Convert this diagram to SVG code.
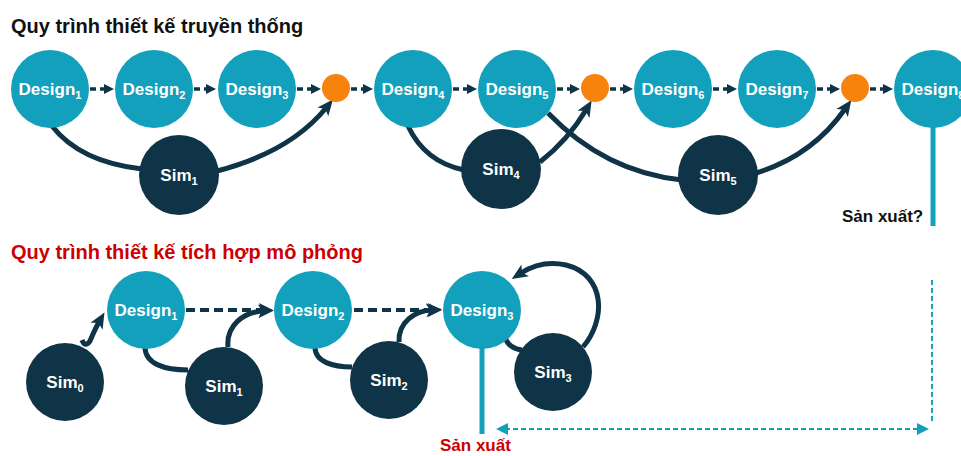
<svg xmlns="http://www.w3.org/2000/svg" width="961" height="456" viewBox="0 0 961 456">
  <style>
    .design { fill: #12a0bc; }
    .sim { fill: #0f3347; }
    .gate { fill: #f7820c; }
    .label { font-family: "Liberation Sans", Arial, sans-serif; font-weight: bold; font-size: 17px; fill: #ffffff; text-anchor: middle; }
    .sub { font-size: 11px; }
    .title { font-family: "Liberation Sans", Arial, sans-serif; font-weight: bold; font-size: 20px; }
    .note { font-family: "Liberation Sans", Arial, sans-serif; font-weight: bold; font-size: 17px; }
    .flow { fill: none; stroke: #0f3347; stroke-width: 5; marker-end: url(#bigHead); }
    .link { fill: none; stroke: #0f3347; stroke-width: 5; }
    .step { fill: none; stroke: #0f3347; stroke-width: 3.5; stroke-dasharray: 6 4; marker-end: url(#smallHead); }
    .step2 { fill: none; stroke: #0f3347; stroke-width: 4; stroke-dasharray: 9 5; marker-end: url(#midHead); }
    .bar { stroke: #12a0bc; stroke-width: 5; }
    .span { fill: none; stroke: #12a0bc; stroke-width: 2; stroke-dasharray: 5 3; }
  </style>
  <defs>
    <marker id="bigHead" markerUnits="userSpaceOnUse" markerWidth="18" markerHeight="18" refX="5" refY="9" orient="auto">
      <path d="M0,2 L16,9 L0,16 L4,9 Z" fill="#0f3347"/>
    </marker>
    <marker id="smallHead" markerUnits="userSpaceOnUse" markerWidth="12" markerHeight="12" refX="2" refY="6" orient="auto">
      <path d="M0,1 L10,6 L0,11 Z" fill="#0f3347"/>
    </marker>
    <marker id="midHead" markerUnits="userSpaceOnUse" markerWidth="16" markerHeight="16" refX="3" refY="8" orient="auto">
      <path d="M0,1 L14,8 L0,15 L3,8 Z" fill="#0f3347"/>
    </marker>
    <marker id="tealHead" markerUnits="userSpaceOnUse" markerWidth="14" markerHeight="12" refX="3" refY="6" orient="auto-start-reverse">
      <path d="M0,0 L12,6 L0,12 Z" fill="#12a0bc"/>
    </marker>
  </defs>

  <rect width="961" height="456" fill="#ffffff"/>

  <!-- headings -->
  <text class="title" x="11" y="33" fill="#111111">Quy trình thiết kế truyền thống</text>
  <text class="title" x="11" y="259" fill="#cc0000">Quy trình thiết kế tích hợp mô phỏng</text>

  <!-- connectors -->
  <g id="connectors">
    <!-- traditional flow: dashed steps -->
    <path class="step" d="M90,89 H106"/>
    <path class="step" d="M194,89 H208"/>
    <path class="step" d="M297,89 H313"/>
    <path class="step" d="M351,89 H365"/>
    <path class="step" d="M453,89 H469"/>
    <path class="step" d="M557,89 H572"/>
    <path class="step" d="M610,89 H625"/>
    <path class="step" d="M713,89 H729"/>
    <path class="step" d="M817,89 H832"/>
    <path class="step" d="M870,89 H885"/>
    <!-- traditional flow: simulation loops -->
    <path class="link" d="M52,126 Q80,162 142,169"/>
    <path class="flow" d="M217,171 Q290,152 326,108"/>
    <path class="link" d="M408,126 Q425,162 464,170"/>
    <path class="flow" d="M540,162 Q568,140 586,110"/>
    <path class="link" d="M548,113 Q605,172 682,180"/>
    <path class="flow" d="M756,173 Q812,156 845,109"/>
    <!-- production line (traditional) -->
    <line class="bar" x1="933" y1="125" x2="933" y2="226"/>

    <!-- integrated flow: dashed steps -->
    <path class="step2" d="M186,310 H262"/>
    <path class="step2" d="M354,310 H431"/>
    <!-- integrated flow: simulation loops -->
    <path class="flow" d="M82,340 Q85,348 90,341 Q95,329 99,322"/>
    <path class="link" d="M145,347 C145,364 165,370 188,370"/>
    <path class="flow" d="M228,347 C226,325 244,312 263,311"/>
    <path class="link" d="M315,347 C315,362 333,367 352,367"/>
    <path class="flow" d="M399,342 C398,322 415,311 431,310"/>
    <path class="link" d="M505,337 C507,344 513,349 522,350"/>
    <path class="flow" d="M583,347 C606,320 606,275 566,265 C548,261 532,266 521,273"/>
    <!-- production line (integrated) -->
    <line class="bar" x1="482" y1="345" x2="482" y2="434"/>
    <!-- time saved -->
    <line class="span" x1="932" y1="280" x2="932" y2="422"/>
    <line class="span" x1="505" y1="429" x2="920" y2="429" style="marker-start:url(#tealHead);marker-end:url(#tealHead)"/>
  </g>

  <!-- traditional process nodes -->
  <g id="t-design1"><circle class="design" cx="50" cy="89" r="39"/><text class="label" x="50" y="95">Design<tspan class="sub" dy="4">1</tspan></text></g>
  <g id="t-design2"><circle class="design" cx="154" cy="89" r="39"/><text class="label" x="154" y="95">Design<tspan class="sub" dy="4">2</tspan></text></g>
  <g id="t-design3"><circle class="design" cx="257" cy="89" r="39"/><text class="label" x="257" y="95">Design<tspan class="sub" dy="4">3</tspan></text></g>
  <g id="t-gate1"><circle class="gate" cx="336" cy="88" r="14"/></g>
  <g id="t-design4"><circle class="design" cx="413" cy="89" r="39"/><text class="label" x="413" y="95">Design<tspan class="sub" dy="4">4</tspan></text></g>
  <g id="t-design5"><circle class="design" cx="517" cy="89" r="39"/><text class="label" x="517" y="95">Design<tspan class="sub" dy="4">5</tspan></text></g>
  <g id="t-gate2"><circle class="gate" cx="595" cy="88" r="14"/></g>
  <g id="t-design6"><circle class="design" cx="673" cy="89" r="39"/><text class="label" x="673" y="95">Design<tspan class="sub" dy="4">6</tspan></text></g>
  <g id="t-design7"><circle class="design" cx="777" cy="89" r="39"/><text class="label" x="777" y="95">Design<tspan class="sub" dy="4">7</tspan></text></g>
  <g id="t-gate3"><circle class="gate" cx="855" cy="88" r="14"/></g>
  <g id="t-design8"><circle class="design" cx="933" cy="89" r="39"/><text class="label" x="933" y="95">Design<tspan class="sub" dy="4">8</tspan></text></g>
  <g id="t-sim1"><circle class="sim" cx="179" cy="175" r="40"/><text class="label" x="179" y="181">Sim<tspan class="sub" dy="4">1</tspan></text></g>
  <g id="t-sim4"><circle class="sim" cx="501" cy="169" r="40"/><text class="label" x="501" y="175">Sim<tspan class="sub" dy="4">4</tspan></text></g>
  <g id="t-sim5"><circle class="sim" cx="718" cy="175" r="40"/><text class="label" x="718" y="181">Sim<tspan class="sub" dy="4">5</tspan></text></g>
  <text class="note" x="842" y="222" fill="#111111">Sản xuất?</text>

  <!-- integrated process nodes -->
  <g id="i-design1"><circle class="design" cx="146" cy="310" r="39"/><text class="label" x="146" y="316">Design<tspan class="sub" dy="4">1</tspan></text></g>
  <g id="i-design2"><circle class="design" cx="313" cy="310" r="39"/><text class="label" x="313" y="316">Design<tspan class="sub" dy="4">2</tspan></text></g>
  <g id="i-design3"><circle class="design" cx="482" cy="310" r="39"/><text class="label" x="482" y="316">Design<tspan class="sub" dy="4">3</tspan></text></g>
  <g id="i-sim0"><circle class="sim" cx="65" cy="382" r="39"/><text class="label" x="65" y="388">Sim<tspan class="sub" dy="4">0</tspan></text></g>
  <g id="i-sim1"><circle class="sim" cx="224" cy="386" r="39"/><text class="label" x="224" y="392">Sim<tspan class="sub" dy="4">1</tspan></text></g>
  <g id="i-sim2"><circle class="sim" cx="389" cy="380" r="39"/><text class="label" x="389" y="386">Sim<tspan class="sub" dy="4">2</tspan></text></g>
  <g id="i-sim3"><circle class="sim" cx="553" cy="372" r="39"/><text class="label" x="553" y="378">Sim<tspan class="sub" dy="4">3</tspan></text></g>
  <text class="note" x="440" y="451" fill="#cc0000">Sản xuất</text>
</svg>
